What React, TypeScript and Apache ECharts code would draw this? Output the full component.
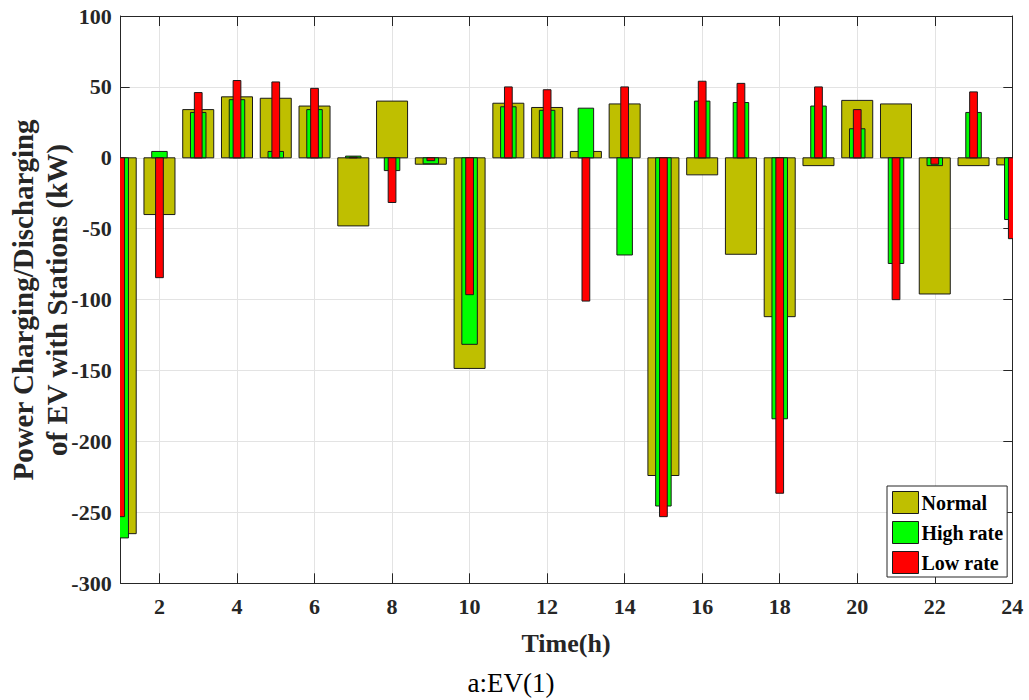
import React, { useEffect, useRef } from "react";
import * as echarts from "echarts";

const hours = ["1","2","3","4","5","6","7","8","9","10","11","12","13","14","15","16","17","18","19","20","21","22","23","24"];
const normalValues = [-265, -40, 34, 43, 42, 36.5, -48, 40, -4.5, -148.5, 38.5, 35.5, 4.5, 38, -224, -12, -68, -112, -5.5, 40.5, 38, -96, -5.5, -5];
const highRateValues = [-268, 4.5, 32, 41, 4.5, 34, 1.2, -9, -4.2, -131.5, 36, 33.5, 35, -68.5, -245.5, 40, 39, -184, 36.5, 20.5, -74.5, -5.5, 32, -43.5];
const lowRateValues = [-253, -84.5, 46, 54.5, 53.5, 49, 0.5, -31.5, -2, -96.5, 50, 48, -101, 50, -253, 54, 52.5, -236.5, 50, 34, -100, -4.5, 46.5, -57];
const seriesNames = ["Normal", "High rate", "Low rate"];
const seriesColors = ["#BFBF00", "#00FF00", "#FF0000"];
const barWidthRatios = [0.8, 0.4, 0.2];
const yTitle = "Power Charging/Discharging\nof EV with Stations (kW)";
const xTitle = "Time(h)";
const caption = "a:EV(1)";

const FONT = "'Liberation Serif', 'Times New Roman', serif";
const AXIS = "#262626";
const evenOnly = (i: number) => i % 2 === 1;

function makeBarSeries(name: string, values: number[], color: string, ratio: number) {
  return {
    name,
    type: "custom",
    xAxisIndex: 0,
    yAxisIndex: 0,
    clip: true,
    encode: { x: 0, y: 1 },
    data: values.map((v, i) => [hours[i], v]),
    itemStyle: { color, borderColor: "#1a1a1a", borderWidth: 1 },
    renderItem: (params: any, api: any) => {
      const xIdx = api.value(0);
      const val = api.value(1);
      const base = api.coord([xIdx, 0]);
      const tip = api.coord([xIdx, val]);
      const band = Math.abs(api.coord([1, 0])[0] - api.coord([0, 0])[0]);
      const w = band * ratio;
      return {
        type: "rect",
        shape: {
          x: base[0] - w / 2,
          y: Math.min(base[1], tip[1]),
          width: w,
          height: Math.abs(tip[1] - base[1]),
        },
        style: api.style({ fill: color, stroke: "#1a1a1a", lineWidth: 1 }),
      };
    },
  };
}

export default function App() {
  const ref = useRef<HTMLDivElement>(null);
  useEffect(() => {
    if (!ref.current) return;
    const chart = echarts.init(ref.current, undefined, { renderer: "svg" });
    const catAxisBase = {
      type: "category" as const,
      data: hours,
      boundaryGap: false,
    };
    chart.setOption({
      animation: false,
      backgroundColor: "#fff",
      grid: { left: 120.7, right: 16.7, top: 16, bottom: 116.7, show: false },
      legend: {
        data: seriesNames,
        orient: "vertical",
        left: 887,
        top: 486,
        itemWidth: 26,
        itemHeight: 22,
        itemGap: 7,
        padding: [5, 4, 3, 5],
        borderColor: AXIS,
        borderWidth: 1,
        backgroundColor: "#fff",
        icon: "rect",
        itemStyle: { borderColor: "#1a1a1a", borderWidth: 1 },
        textStyle: { fontFamily: FONT, fontWeight: "bold", fontSize: 20, color: "#000", padding: [0, 0, 0, -2] },
      },
      xAxis: [
        {
          ...catAxisBase,
          position: "bottom",
          axisLine: { show: true, onZero: false, lineStyle: { color: AXIS, width: 1 } },
          axisTick: { show: true, inside: true, length: 10, interval: evenOnly, lineStyle: { color: AXIS } },
          axisLabel: { interval: evenOnly, margin: 12, fontFamily: FONT, fontWeight: "bold", fontSize: 22, color: AXIS },
          splitLine: { show: true, interval: evenOnly, lineStyle: { color: "#e3e3e3", width: 1 } },
        },
        {
          ...catAxisBase,
          position: "top",
          axisLine: { show: true, onZero: false, lineStyle: { color: AXIS, width: 1 } },
          axisTick: { show: true, inside: true, length: 10, interval: evenOnly, lineStyle: { color: AXIS } },
          axisLabel: { show: false },
          splitLine: { show: false },
        },
      ],
      yAxis: [
        {
          type: "value",
          position: "left",
          min: -300,
          max: 100,
          interval: 50,
          axisLine: { show: true, onZero: false, lineStyle: { color: AXIS, width: 1 } },
          axisTick: { show: true, inside: true, length: 9, lineStyle: { color: AXIS } },
          axisLabel: { margin: 9, fontFamily: FONT, fontWeight: "bold", fontSize: 22, color: AXIS },
          splitLine: { show: true, lineStyle: { color: "#e3e3e3", width: 1 } },
        },
        {
          type: "value",
          position: "right",
          min: -300,
          max: 100,
          interval: 50,
          axisLine: { show: true, onZero: false, lineStyle: { color: AXIS, width: 1 } },
          axisTick: { show: true, inside: true, length: 9, lineStyle: { color: AXIS } },
          axisLabel: { show: false },
          splitLine: { show: false },
        },
      ],
      series: [
        makeBarSeries(seriesNames[0], normalValues, seriesColors[0], barWidthRatios[0]),
        makeBarSeries(seriesNames[1], highRateValues, seriesColors[1], barWidthRatios[1]),
        makeBarSeries(seriesNames[2], lowRateValues, seriesColors[2], barWidthRatios[2]),
      ],
      graphic: [
        {
          type: "text",
          x: 40,
          y: 300,
          rotation: Math.PI / 2,
          style: {
            text: yTitle,
            fontFamily: FONT,
            fontWeight: "bold",
            fontSize: 29,
            lineHeight: 34,
            align: "center",
            verticalAlign: "middle",
            fill: AXIS,
          },
        },
        {
          type: "text",
          x: 566,
          y: 643,
          style: {
            text: xTitle,
            fontFamily: FONT,
            fontWeight: "bold",
            fontSize: 26,
            align: "center",
            verticalAlign: "middle",
            fill: AXIS,
          },
        },
        {
          type: "text",
          x: 511,
          y: 683,
          style: {
            text: caption,
            fontFamily: FONT,
            fontWeight: "normal",
            fontSize: 27,
            align: "center",
            verticalAlign: "middle",
            fill: "#000",
          },
        },
      ],
    });
    return () => chart.dispose();
  }, []);
  return <div ref={ref} style={{ position: "fixed", left: 0, top: 0, width: 1029, height: 700 }} />;
}
